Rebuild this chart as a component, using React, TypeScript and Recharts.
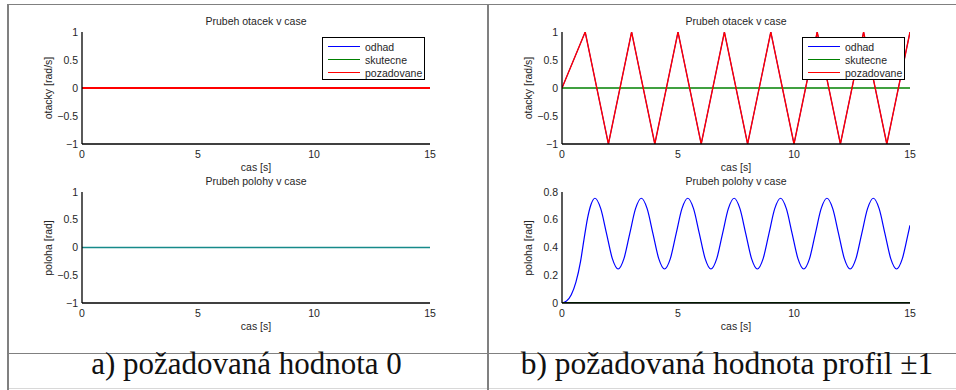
import { Legend, Line, LineChart, XAxis, YAxis } from 'recharts'

// time axis and ticks
const timeTicks = [0, 5, 10, 15]
const unitTicks = [-1, -0.5, 0, 0.5, 1]
const posTicksB = [0, 0.2, 0.4, 0.6, 0.8]

const seriesNames = ['odhad', 'skutecne', 'pozadovane']
const seriesColors = ['#0000ff', '#008000', '#ff0000']

// a) zero reference: every trace stays at 0
const flatTime = [0, 15]
const flatZero = [0, 0]

// b) +-1 profile (velocity)
const profileTime = [0, 1, 2, 3, 4, 5, 6, 7, 8, 9, 10, 11, 12, 13, 14, 15]
const profileRef = [0, 1, -1, 1, -1, 1, -1, 1, -1, 1, -1, 1, -1, 1, -1, 1]
const profileEst = [0, 1, -1, 1, -1, 1, -1, 1, -1, 1, -1, 1, -1, 1, -1, 1]
const profileAct = [0, 0, 0, 0, 0, 0, 0, 0, 0, 0, 0, 0, 0, 0, 0, 0]

// b) position estimate
const posTime = [
  0, 0.2, 0.4, 0.6, 0.8, 0.95, 1.1, 1.25, 1.42,
  1.67, 1.92, 2.17, 2.42, 2.67, 2.92, 3.17, 3.42,
  3.67, 3.92, 4.17, 4.42, 4.67, 4.92, 5.17, 5.42,
  5.67, 5.92, 6.17, 6.42, 6.67, 6.92, 7.17, 7.42,
  7.67, 7.92, 8.17, 8.42, 8.67, 8.92, 9.17, 9.42,
  9.67, 9.92, 10.17, 10.42, 10.67, 10.92, 11.17, 11.42,
  11.67, 11.92, 12.17, 12.42, 12.67, 12.92, 13.17, 13.42,
  13.67, 13.92, 14.17, 14.42, 14.67, 14.92, 15,
]
const posEst = [
  0, 0.015, 0.06, 0.15, 0.3, 0.46, 0.61, 0.71, 0.755,
  0.68, 0.5, 0.32, 0.245, 0.32, 0.5, 0.68, 0.755,
  0.68, 0.5, 0.32, 0.245, 0.32, 0.5, 0.68, 0.755,
  0.68, 0.5, 0.32, 0.245, 0.32, 0.5, 0.68, 0.755,
  0.68, 0.5, 0.32, 0.245, 0.32, 0.5, 0.68, 0.755,
  0.68, 0.5, 0.32, 0.245, 0.32, 0.5, 0.68, 0.755,
  0.68, 0.5, 0.32, 0.245, 0.32, 0.5, 0.68, 0.755,
  0.68, 0.5, 0.32, 0.245, 0.32, 0.5, 0.56,
]

const zip = (t: number[], v: number[]) => t.map((x, i) => ({ t: x, v: v[i] }))

const sans = '"Liberation Sans", Arial, Helvetica, sans-serif'
const serif = '"Liberation Serif", "DejaVu Serif", serif'
const textColor = '#262626'
const fmt = (v: number) => (v < 0 ? '\u2212' + Math.abs(v) : String(v))

type Series = { name: string; color: string; time: number[]; values: number[]; opacity?: number; width?: number }

function LegendBox() {
  return (
    <div style={{ width: 103, height: 43, boxSizing: 'border-box', border: '1.5px solid #000', background: '#fff', position: 'relative', fontFamily: sans, fontSize: 10.5, color: textColor }}>
      {seriesNames.map((name, i) => (
        <div key={name} style={{ position: 'absolute', left: 5, top: 2 + i * 13, height: 13, display: 'flex', alignItems: 'center', whiteSpace: 'nowrap' }}>
          <span style={{ width: 32, height: 0, borderTop: `1.5px solid ${seriesColors[i]}` }} />
          <span style={{ marginLeft: 5 }}>{name}</span>
        </div>
      ))}
    </div>
  )
}

function Plot({ left, top, plotTop, plotHeight, title, yLabel, yTicks, yDomain, series, legend }: {
  left: number; top: number; plotTop: number; plotHeight: number; title: string; yLabel: string
  yTicks: number[]; yDomain: [number, number]; series: Series[]; legend?: boolean
}) {
  const W = 480
  const H = 170
  const tickStyle = { fontSize: 10.5, fontFamily: sans, fill: textColor }
  const label = { position: 'absolute' as const, fontFamily: sans, fontSize: 10.5, color: textColor, whiteSpace: 'nowrap' as const }
  return (
    <div style={{ position: 'absolute', left, top, width: W, height: H }}>
      <LineChart width={W} height={H} margin={{ top: plotTop, right: 50, left: 52, bottom: H - plotTop - plotHeight - 20 }}>
        <XAxis xAxisId="x" dataKey="t" type="number" domain={[0, 15]} ticks={timeTicks} allowDataOverflow height={20}
          tickLine={false} tickSize={0} tickMargin={7} tick={tickStyle} axisLine={{ stroke: '#000', strokeWidth: 1.3 }} />
        <XAxis xAxisId="xb" type="number" domain={[0, 15]} ticks={timeTicks} allowDataOverflow mirror height={0}
          tick={false} tickSize={4} tickLine={{ stroke: '#000' }} axisLine={false} />
        <XAxis xAxisId="xt" orientation="top" type="number" domain={[0, 15]} ticks={timeTicks} allowDataOverflow mirror height={0}
          tick={false} tickSize={4} tickLine={{ stroke: '#000' }} axisLine={{ stroke: '#000', strokeWidth: 1.3 }} />
        <YAxis yAxisId="y" type="number" domain={yDomain} ticks={yTicks} allowDataOverflow width={30}
          tickLine={false} tickSize={0} tickMargin={4} tick={tickStyle} tickFormatter={fmt} axisLine={{ stroke: '#000', strokeWidth: 1.3 }} />
        <YAxis yAxisId="yl" type="number" domain={yDomain} ticks={yTicks} allowDataOverflow mirror width={0}
          tick={false} tickSize={4} tickLine={{ stroke: '#000' }} axisLine={false} />
        <YAxis yAxisId="yr" orientation="right" type="number" domain={yDomain} ticks={yTicks} allowDataOverflow mirror width={0}
          tick={false} tickSize={4} tickLine={{ stroke: '#000' }} axisLine={{ stroke: '#000', strokeWidth: 1.3 }} />
        {series.map((s) => (
          <Line key={s.name} xAxisId="x" yAxisId="y" data={zip(s.time, s.values)} dataKey="v" name={s.name}
            type={s.time.length > 20 ? 'monotone' : 'linear'} stroke={s.color} strokeOpacity={s.opacity ?? 1}
            strokeWidth={s.width ?? 1.2} dot={false} activeDot={false} isAnimationActive={false} />
        ))}
        {legend && (
          <Legend layout="horizontal" verticalAlign="middle" align="center" content={LegendBox}
            wrapperStyle={{ position: 'absolute', left: 322, top: plotTop + 5, width: 103, height: 43 }} />
        )}
      </LineChart>
      <div style={{ ...label, left: 256, top: plotTop - 11.5, transform: 'translate(-50%, -50%)' }}>{title}</div>
      <div style={{ ...label, left: 256, top: plotTop + plotHeight + 22.5, transform: 'translate(-50%, -50%)' }}>cas [s]</div>
      <div style={{ ...label, left: 47.7, top: plotTop + plotHeight / 2, transform: 'translate(-50%, -50%) rotate(-90deg)' }}>{yLabel}</div>
    </div>
  )
}

const rule = '#808080'

export default function App() {
  return (
    <div style={{ position: 'absolute', left: 0, top: 0, width: 956, height: 390, background: '#fff', overflow: 'hidden' }}>
      <Plot left={0} top={0} plotTop={32} plotHeight={112} title="Prubeh otacek v case" yLabel="otacky  [rad/s]"
        yTicks={unitTicks} yDomain={[-1, 1]} legend
        series={[
          { name: seriesNames[0], color: seriesColors[0], time: flatTime, values: flatZero, width: 0.6 },
          { name: seriesNames[1], color: seriesColors[1], time: flatTime, values: flatZero, width: 0.6 },
          { name: seriesNames[2], color: seriesColors[2], time: flatTime, values: flatZero, width: 2 },
        ]} />
      <Plot left={0} top={170} plotTop={22} plotHeight={111} title="Prubeh polohy v case" yLabel="poloha [rad]"
        yTicks={unitTicks} yDomain={[-1, 1]}
        series={[
          { name: seriesNames[0], color: seriesColors[0], time: flatTime, values: flatZero, width: 1.2 },
          { name: seriesNames[1], color: '#168a8a', time: flatTime, values: flatZero, width: 1.5 },
        ]} />
      <Plot left={480} top={0} plotTop={32} plotHeight={112} title="Prubeh otacek v case" yLabel="otacky  [rad/s]"
        yTicks={unitTicks} yDomain={[-1, 1]} legend
        series={[
          { name: seriesNames[0], color: seriesColors[0], time: profileTime, values: profileEst, width: 1 },
          { name: seriesNames[1], color: seriesColors[1], time: profileTime, values: profileAct, width: 1.4 },
          { name: seriesNames[2], color: seriesColors[2], time: profileTime, values: profileRef, width: 1.4 },
        ]} />
      <Plot left={480} top={170} plotTop={22} plotHeight={111} title="Prubeh polohy v case" yLabel="poloha [rad]"
        yTicks={posTicksB} yDomain={[0, 0.8]}
        series={[
          { name: seriesNames[0], color: seriesColors[0], time: posTime, values: posEst },
          { name: seriesNames[1], color: '#006000', time: flatTime, values: flatZero, width: 2 },
        ]} />

      <div style={{ position: 'absolute', left: 8, top: 4, width: 948, height: 1.3, background: rule }} />
      <div style={{ position: 'absolute', left: 8, top: 352.5, width: 948, height: 1.5, background: rule }} />
      <div style={{ position: 'absolute', left: 8, top: 388, width: 948, height: 1, background: '#d8d8d8' }} />
      <div style={{ position: 'absolute', left: 7, top: 4, width: 2, height: 386, background: rule }} />
      <div style={{ position: 'absolute', left: 487, top: 4, width: 2, height: 386, background: rule }} />

      <div style={{ position: 'absolute', left: 6.5, top: 345.5, width: 480, textAlign: 'center', fontFamily: serif, fontSize: 31, lineHeight: '36px', color: '#111', whiteSpace: 'nowrap' }}>
        a) požadovaná hodnota 0
      </div>
      <div style={{ position: 'absolute', left: 487, top: 345.5, width: 480, textAlign: 'center', fontFamily: serif, fontSize: 31.5, lineHeight: '36px', color: '#111', whiteSpace: 'nowrap' }}>
        b) požadovaná hodnota profil ±1
      </div>
    </div>
  )
}
